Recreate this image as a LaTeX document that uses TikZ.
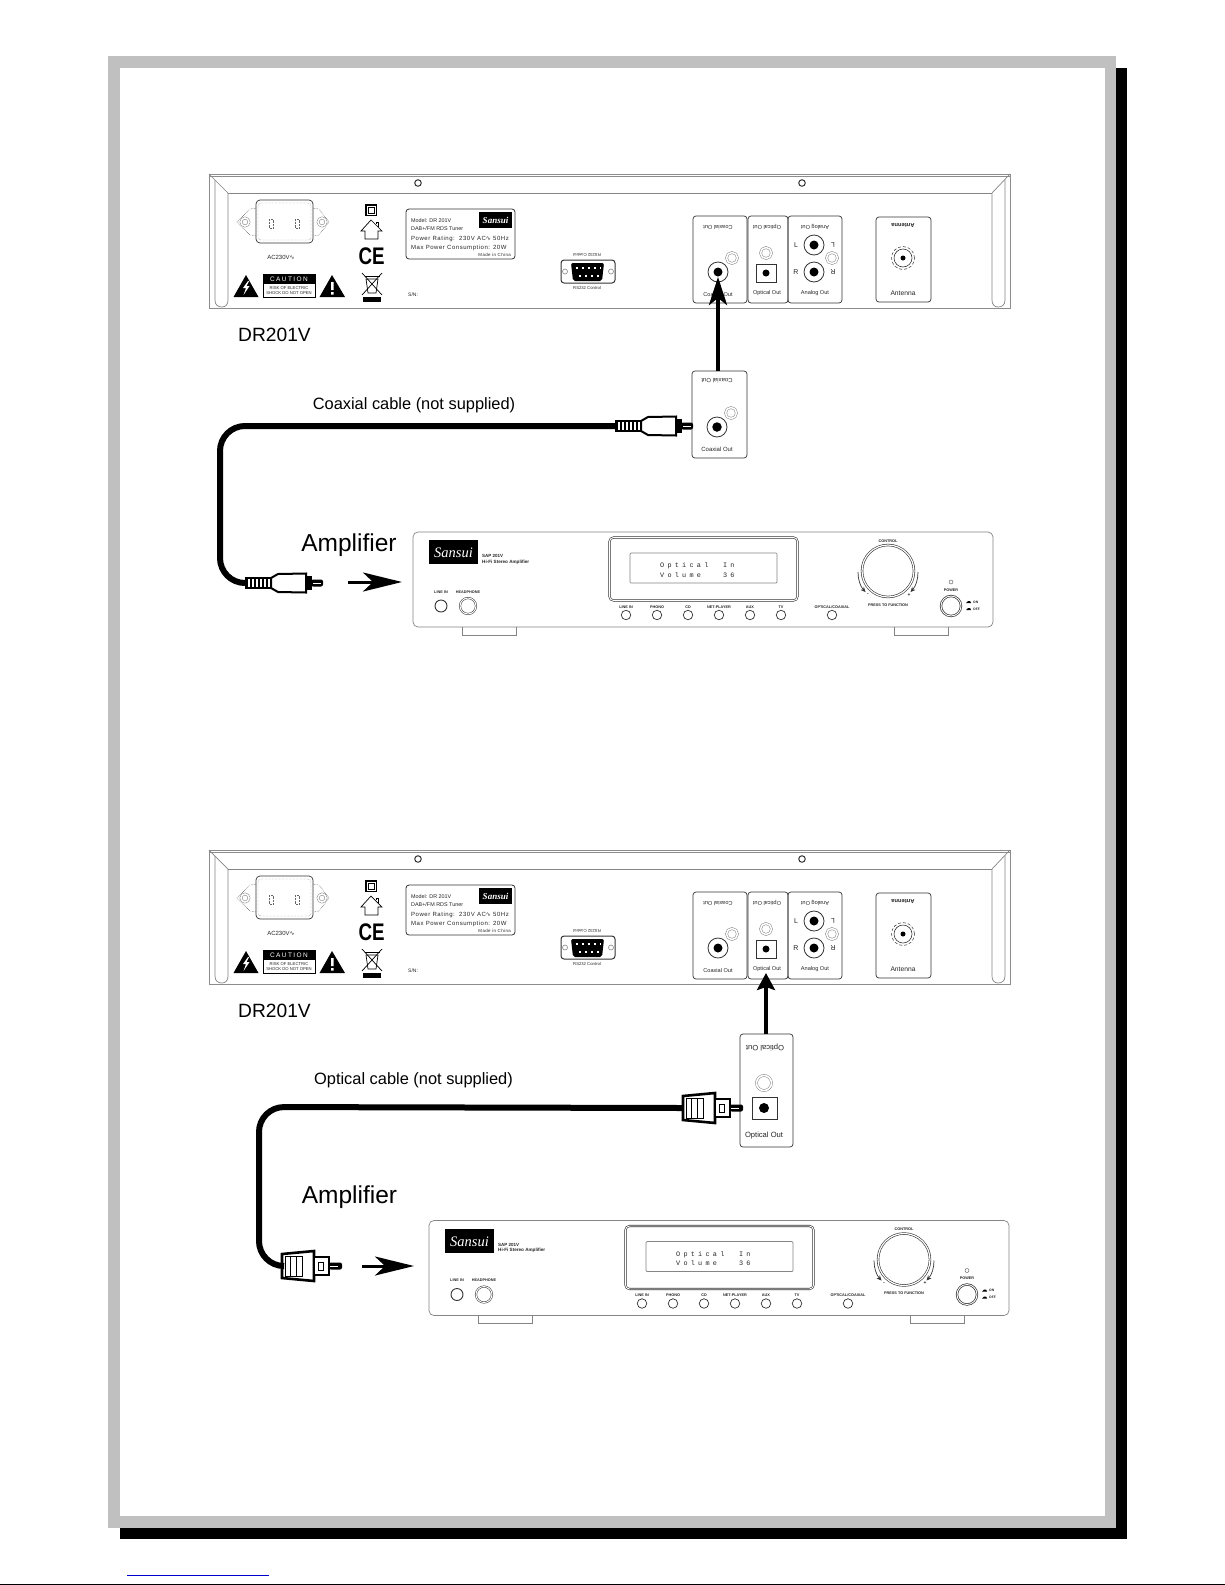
\documentclass[tikz,border=0pt]{standalone}
\usepackage{fontspec}
\setmainfont{Liberation Sans}
\newfontfamily\logofont{Liberation Serif}
\newfontfamily\widefont[LetterSpace=9]{Liberation Sans}
\newfontfamily\cautionfont[LetterSpace=22]{Liberation Sans}
\newfontfamily\lcdfont[LetterSpace=48]{Liberation Mono}
\newfontfamily\symfont{DejaVu Sans}
\usetikzlibrary{arrows.meta}
\definecolor{framegray}{HTML}{C0C0C0}
\definecolor{linkblue}{HTML}{0000CC}
\definecolor{panelline}{HTML}{858585}
\newcommand{\pxfont}[1]{\fontsize{#1}{#1}\selectfont}

\tikzset{
    txt/.style={inner sep=0, text=black!85},
    jackbox/.style={draw=black!80, rounded corners=3, line width=.7, inner sep=0},
    jack/.style={circle, draw=black!80, line width=.8, minimum size=20, inner sep=0},
    hole/.style={circle, fill=black, minimum size=9, inner sep=0},
    ring/.style={circle, draw=panelline, line width=.5, double=white, double distance=1.6, minimum size=11, inner sep=0},
    btn/.style={circle, draw=black!80, line width=.7, minimum size=9.5, inner sep=0},
    amplbl/.style={txt, font=\pxfont{3.8}\bfseries},
    rear/.style={draw=panelline, line width=.7},
    front/.style={draw=panelline, line width=.7},
    cable/.style={line width=6, rounded corners=25},
    bigarrow/.style={line width=4.2, -{Stealth[length=28, width=18, inset=7]}},
    smallarrow/.style={line width=3, -{Stealth[length=39, width=19, inset=10]}},
}

% rear of the tuner, in page pixels
\newcommand{\rearpanel}{
    \draw[rear, line width=.9, draw=black!45] (209,174) rectangle (1010,308);
    \draw[rear, draw=black!45] (209,176) -- (1010,176);
    \draw[rear] (228,193) -- (992,193);
    \draw[rear] (209,174) -- (228,193);
    \draw[rear] (1010,174) -- (992,193);
    \draw[rear] (215,180) -- (215,300) .. controls (215,305) and (218,307) .. (222,307) .. controls (226,307) and (228,304) .. (228,300) -- (228,193);
    \draw[rear] (1005,180) -- (1005,300) .. controls (1005,305) and (1002,307) .. (998,307) .. controls (994,307) and (992,304) .. (992,300) -- (992,193);
    \node (screwl) at (418,183) [circle, draw=black!80, line width=1, minimum size=6.5, inner sep=0] {};
    \node (screwr) at (802,183) [circle, draw=black!80, line width=1, minimum size=6.5, inner sep=0] {};
    % mains socket
    \draw[black!70, line width=.5, densely dotted] (256,208) -- (250,209) -- (237,222) -- (250,235) -- (256,236);
    \draw[black!70, line width=.5, densely dotted] (313,208) -- (319,209) -- (329,222) -- (319,235) -- (313,236);
    \draw[black!80, line width=.7, rounded corners=4] (256,200) rectangle (313,243);
    \draw[black!60, line width=.4, densely dotted, rounded corners=3] (258,203) rectangle (311,240);
    \draw[black!60, line width=.4, densely dotted] (269,219) rectangle (273,228) (295,219) rectangle (299,228);
    \node (iecl) at (245,222) [ring, minimum size=8] {};
    \node (iecr) at (322,222) [ring, minimum size=8] {};
    \node (acv) at (281,257) [txt, font=\pxfont{6}] {AC230V{\symfont ∿}};
    % warnings
    \fill (246,275) -- (233.5,297) -- (258.5,297) -- cycle;
    \fill[white] (248,281) -- (243,288) -- (246,288) -- (243.5,295) -- (249.5,286) -- (246.5,286) -- (249,281) -- cycle;
    \draw[black, line width=.7] (263,274) rectangle (315,297);
    \fill (263,274) rectangle (315,284);
    \node (caut) at (289,279) [inner sep=0, text=white, font=\pxfont{6.5}\cautionfont] {CAUTION};
    \node (rsk1) at (289,288) [txt, font=\pxfont{4.2}] {RISK OF ELECTRIC};
    \node (rsk2) at (289,293) [txt, font=\pxfont{4.2}] {SHOCK DO NOT OPEN};
    \fill (332,275) -- (319.5,297) -- (345,297) -- cycle;
    \fill[white] (331,282) rectangle (333.5,290) (331,292) rectangle (333.5,294.5);
    % marks
    \fill (365,204) rectangle (377,216);
    \fill[white] (366.5,205.5) rectangle (375.5,214.5);
    \draw[black, line width=.8] (368,207) rectangle (374,213);
    \draw[black, line width=.7] (361,231) -- (371,220) -- (382,231) -- (378,231) -- (378,239) -- (365,239) -- (365,231) -- cycle;
    \draw[black, line width=.7] (376,224) -- (376,222) -- (378,222) -- (378,227);
    \node (cemark) at (371.5,256) [inner sep=0, xscale=.78, font=\pxfont{24}\bfseries] {CE};
    \draw[black, line width=.7] (362,273) -- (382,295) (382,273) -- (362,295);
    \draw[black, line width=.7] (366,279) -- (378,279) -- (376,293) -- (368,293) -- cycle;
    \draw[black, line width=.9] (365,276) -- (380,276);
    \fill (363,297) rectangle (381,302);
    % rating plate
    \node (plate) at (460.5,234) [jackbox, line width=.8, minimum width=109, minimum height=50] {};
    \fill (479,212) rectangle (512,228);
    \node (logor) at (495.5,220) [inner sep=0, text=white, font=\pxfont{9}\logofont\itshape\bfseries] {Sansui};
    \node (model) at (411,221) [txt, anchor=west, font=\pxfont{5.4}] {Model: DR 201V};
    \node (dab) at (411,229) [txt, anchor=west, font=\pxfont{5.4}] {DAB+/FM RDS Tuner};
    \node (power) at (411,239) [txt, anchor=west, font=\pxfont{6}\widefont] {Power Rating:\ \ 230V AC{\symfont ∿} 50Hz};
    \node (maxp) at (411,247.5) [txt, anchor=west, font=\pxfont{6}\widefont] {Max Power Consumption: 20W};
    \node (china) at (511,255) [txt, anchor=east, font=\pxfont{4.4}\widefont] {Made in China};
    \node (sn) at (408,295) [txt, anchor=west, font=\pxfont{5}] {S/N:};
    % serial port
    \node (rstop) at (587,255) [txt, rotate=180, font=\pxfont{4.2}] {RS232 Control};
    \node (rsbot) at (587,288) [txt, font=\pxfont{4.2}] {RS232 Control};
    \draw[black!80, line width=1, rounded corners=3] (561,260) rectangle (615,283);
    \fill[rounded corners=2] (571,263) -- (604,263) -- (602,281) -- (573,281) -- cycle;
    \draw[panelline, line width=.6] (565,271.5) circle (2.5) (611,271.5) circle (2.5);
    \draw[white, line width=2, dash pattern=on 2 off 4.1] (575.5,268) -- (601,268);
    \draw[white, line width=2, dash pattern=on 2 off 4.1] (579,276) -- (599,276);
    % sockets
    \node (coaxp) at (720,259.5) [jackbox, minimum width=54, minimum height=87] {};
    \node (optp) at (768,259.5) [jackbox, minimum width=40, minimum height=87] {};
    \node (anap) at (815,259.5) [jackbox, minimum width=54, minimum height=87] {};
    \node (antp) at (903.5,259.5) [jackbox, minimum width=55, minimum height=85] {};
    \node (coaxt) at (718,227) [txt, rotate=180, font=\pxfont{5.6}] {Coaxial Out};
    \node (coaxb) at (718,294) [txt, font=\pxfont{5.6}] {Coaxial Out};
    \node (coaxj) at (718,272) [jack] {};
    \node (coaxh) at (718,272) [hole] {};
    \node (coaxr) at (732,258) [ring] {};
    \node (optt) at (767,227) [txt, rotate=180, font=\pxfont{5.6}] {Optical Out};
    \node (optb) at (767,293) [txt, font=\pxfont{5.6}] {Optical Out};
    \node (optr) at (766,253) [ring] {};
    \node (opts) at (766.5,273) [draw=black!80, line width=.7, minimum width=20, minimum height=18, inner sep=0] {};
    \node (opth) at (766,273) [hole, minimum size=7] {};
    \node (anat) at (815,227) [txt, rotate=180, font=\pxfont{5.6}] {Analog Out};
    \node (anab) at (815,293) [txt, font=\pxfont{5.6}] {Analog Out};
    \node (jackl) at (814,245) [jack] {};
    \node (holel) at (814,245) [hole] {};
    \node (jackr) at (814,272) [jack] {};
    \node (holer) at (814,272) [hole] {};
    \node (anar) at (832,258) [ring] {};
    \node (ll) at (796,245) [txt, font=\pxfont{7}] {L};
    \node (lr) at (833,245) [txt, rotate=180, font=\pxfont{7}] {L};
    \node (rl) at (796,272) [txt, font=\pxfont{7}] {R};
    \node (rr) at (833,272) [txt, rotate=180, font=\pxfont{7}] {R};
    \node (antt) at (903,225) [txt, rotate=180, font=\pxfont{5.8}\bfseries] {Antenna};
    \node (antb) at (903,293) [txt, font=\pxfont{6.7}] {Antenna};
    \node (antd) at (903,258) [circle, draw=black!80, line width=.5, densely dashed, minimum size=23, inner sep=0] {};
    \node (antc) at (903,258) [circle, draw=black!80, line width=.6, minimum size=18, inner sep=0] {};
    \node (anth) at (903,258) [hole, minimum size=5] {};
}

% front of the amplifier
\newcommand{\ampfront}{
    \node (case) at (703,579.5) [front, rounded corners=5, minimum width=580, minimum height=95, inner sep=0] {};
    \draw[front] (462,627) -- (462,635) -- (516,635) -- (516,627);
    \draw[front] (894,627) -- (894,635) -- (948,635) -- (948,627);
    \fill (429,540) rectangle (478,564);
    \node (logo) at (453.5,553) [inner sep=0, text=white, font=\pxfont{14.5}\logofont\itshape] {Sansui};
    \node (sap) at (482,556) [txt, anchor=west, font=\pxfont{4.5}\bfseries] {SAP 201V};
    \node (hifi) at (482,562) [txt, anchor=west, font=\pxfont{4.6}\bfseries] {Hi-Fi Stereo Amplifier};
    \node (linet) at (441,592) [amplbl] {LINE IN};
    \node (phonet) at (468,592) [amplbl] {HEADPHONE};
    \node (linej) at (441,606) [circle, draw=black!80, line width=.9, minimum size=12, inner sep=0] {};
    \node (phonej) at (468,606) [circle, draw=black!80, line width=.5, double=white, double distance=1, minimum size=16, inner sep=0] {};
    \node (disp) at (703.5,569) [draw=black!80, line width=.6, double=white, double distance=.9, rounded corners=4, minimum width=188, minimum height=63, inner sep=0] {};
    \node (lcd) at (703.5,568) [front, rounded corners=1, minimum width=147, minimum height=30, inner sep=0] {};
    \node (lcda) at (660,566) [txt, anchor=west, font=\pxfont{6.8}\lcdfont] {Optical~~In};
    \node (lcdb) at (660,575) [txt, anchor=west, font=\pxfont{6.8}\lcdfont] {Volume~~~36};
    \node (b1) at (626,615) [btn] {};
    \node (b2) at (657,615) [btn] {};
    \node (b3) at (688,615) [btn] {};
    \node (b4) at (719,615) [btn] {};
    \node (b5) at (750,615) [btn] {};
    \node (b6) at (781,615) [btn] {};
    \node (b7) at (832,615) [btn] {};
    \node (t1) at (626,607) [amplbl] {LINE IN};
    \node (t2) at (657,607) [amplbl] {PHONO};
    \node (t3) at (688,607) [amplbl] {CD};
    \node (t4) at (719,607) [amplbl] {NET-PLAYER};
    \node (t5) at (750,607) [amplbl] {AUX};
    \node (t6) at (781,607) [amplbl] {TV};
    \node (t7) at (832,607) [amplbl] {OPTICAL/COAXIAL};
    \node (knob) at (888,571) [circle, draw=black!80, line width=.6, double=white, double distance=1.2, minimum size=52, inner sep=0] {};
    \node (ctrl) at (888,541) [amplbl] {CONTROL};
    \node (press) at (888,605) [amplbl] {PRESS TO FUNCTION};
    \node (minus) at (868,595) [txt, font=\pxfont{5}\bfseries] {-};
    \node (plus) at (909,595) [txt, font=\pxfont{5}\bfseries] {+};
    \draw[black!80, line width=.7, -{Stealth[length=5, width=4.5]}] (858,572) .. controls (858,579) and (860,586) .. (865.5,592);
    \draw[black!80, line width=.7, -{Stealth[length=5, width=4.5]}] (918,572) .. controls (918,579) and (916,586) .. (910.5,592);
    \node (led) at (951,582) [circle, draw=black!70, line width=.4, minimum size=4, inner sep=0] {};
    \node (pwrt) at (951,590) [amplbl] {POWER};
    \node (pwr) at (951,606) [circle, draw=black!80, line width=.7, double=white, double distance=.9, minimum size=20, inner sep=0] {};
    \fill (966,603) -- (968,601) -- (970,601) -- (971,603) -- cycle;
    \fill (966,610) -- (968,608) -- (970,608) -- (971,610) -- cycle;
    \node (on) at (973,602) [amplbl, anchor=west, font=\pxfont{3.4}\bfseries] {ON};
    \node (off) at (973,609) [amplbl, anchor=west, font=\pxfont{3.4}\bfseries] {OFF};
}

% round plug lying on its side, #1 is where the cable meets it
\newcommand{\coaxplug}[2]{
    \begin{scope}[shift={(#2)}]
        \coordinate (#1) at (0,0);
        \fill (0,-6) rectangle (28,6);
        \draw[white, line width=8, dash pattern=on 2 off 2] (3,0) -- (26,0);
        \draw[black, line width=2, fill=white] (26,-5) -- (33,-9) -- (61,-9.5) -- (61,9.5) -- (33,9) -- (26,5) -- cycle;
        \fill (61,-7) rectangle (67,7);
        \fill[rounded corners=2] (66,-3.5) rectangle (78,3.5);
        \draw[white, line width=.5] (68,0) -- (76,0);
    \end{scope}
}

% square plug
\newcommand{\optplug}[2]{
    \begin{scope}[shift={(#2)}]
        \coordinate (#1) at (0,0);
        \draw[black, line width=2.6, fill=white] (0,-12) -- (32,-15) -- (32,15) -- (0,12) -- cycle;
        \draw[black, line width=.7] (3,-10) rectangle (20,10) (8.5,-10) -- (8.5,10) (14,-10) -- (14,10);
        \draw[black, line width=2.8, fill=white] (32,-9) rectangle (47,9);
        \draw[black, line width=.8] (36,-4) rectangle (41,4);
        \fill[rounded corners=2] (47,-3.5) rectangle (60,3.5);
        \draw[white, line width=.8] (48,0) -- (56,0);
    \end{scope}
}

\begin{document}
\begin{tikzpicture}[x=1pt, y=-1pt]
    \useasboundingbox (0,0) rectangle (1225,1585);

    % page frame
    \fill (120,68) rectangle (1127,1539);
    \fill[framegray] (108,56) rectangle (1116,1528);
    \fill[white] (120,68) rectangle (1105,1516);
    \draw[linkblue, line width=1] (127,1575) -- (269,1575);
    \draw[line width=1] (0,1584) -- (1225,1584);

    % coaxial hookup
    \begin{scope}[name prefix=a-]
        \rearpanel
    \end{scope}
    \node (tunera) at (238,335) [anchor=west, inner sep=0, font=\pxfont{19.2}] {DR201V};
    \node (coaxbox) at (719.5,414.5) [jackbox, minimum width=55, minimum height=87] {};
    \node (coaxbt) at (717,381) [txt, rotate=180, font=\pxfont{6}] {Coaxial Out};
    \node (coaxbb) at (717,449) [txt, font=\pxfont{6}] {Coaxial Out};
    \node (coaxbj) at (717,427) [jack] {};
    \node (coaxbh) at (717,427) [hole, minimum size=9.5] {};
    \node (coaxbr) at (731,413) [ring] {};
    \coordinate (tipa) at (718,277);
    \draw[bigarrow] (tipa |- coaxbox.north) -- (tipa);
    \node (cablea) at (414,405) [txt, text=black, font=\pxfont{16.4}] {Coaxial cable (not supplied)};
    \coaxplug{pluga}{615,426}
    \coaxplug{plugb}{245,583}
    \draw[cable] (pluga) -- (220,426) -- (220,583) -- (plugb);
    \node (ampa) at (349,545) [txt, text=black, font=\pxfont{24.5}] {Amplifier};
    \coordinate (arra) at (348,582);
    \coordinate (arrb) at (402,582);
    \draw[smallarrow] (arra) -- (arrb);
    \begin{scope}[name prefix=c-]
        \ampfront
    \end{scope}

    % optical hookup
    \begin{scope}[shift={(0,676)}, name prefix=b-]
        \rearpanel
    \end{scope}
    \node (tunerb) at (238,1011) [anchor=west, inner sep=0, font=\pxfont{19.2}] {DR201V};
    \node (optbox) at (766.5,1090.5) [jackbox, minimum width=53, minimum height=113] {};
    \node (optbt) at (765,1047) [txt, rotate=180, font=\pxfont{7.6}] {Optical Out};
    \node (optbb) at (764,1136) [txt, font=\pxfont{7.6}] {Optical Out};
    \node (optbr) at (764,1083) [ring, minimum size=15] {};
    \node (optbs) at (764.5,1108) [draw=black!80, line width=.8, minimum width=25, minimum height=22, inner sep=0] {};
    \node (optbh) at (764,1108) [hole, minimum size=10] {};
    \coordinate (tipb) at (766,973);
    \draw[line width=4.2, -{Stealth[length=17, width=18, inset=3]}] (tipb |- optbox.north) -- (tipb);
    \node (cableb) at (413.5,1080.5) [txt, text=black, font=\pxfont{16.4}] {Optical cable (not supplied)};
    \optplug{plugc}{683,1108}
    \optplug{plugd}{282,1266}
    \draw[cable] (plugc) -- (259,1107) -- (259,1266) -- (plugd);
    \node (ampb) at (349.5,1197) [txt, text=black, font=\pxfont{24.5}] {Amplifier};
    \coordinate (arrc) at (362,1266);
    \coordinate (arrd) at (414,1266);
    \draw[smallarrow] (arrc) -- (arrd);
    \begin{scope}[shift={(16,688.5)}, name prefix=d-]
        \ampfront
    \end{scope}
\end{tikzpicture}
\end{document}
